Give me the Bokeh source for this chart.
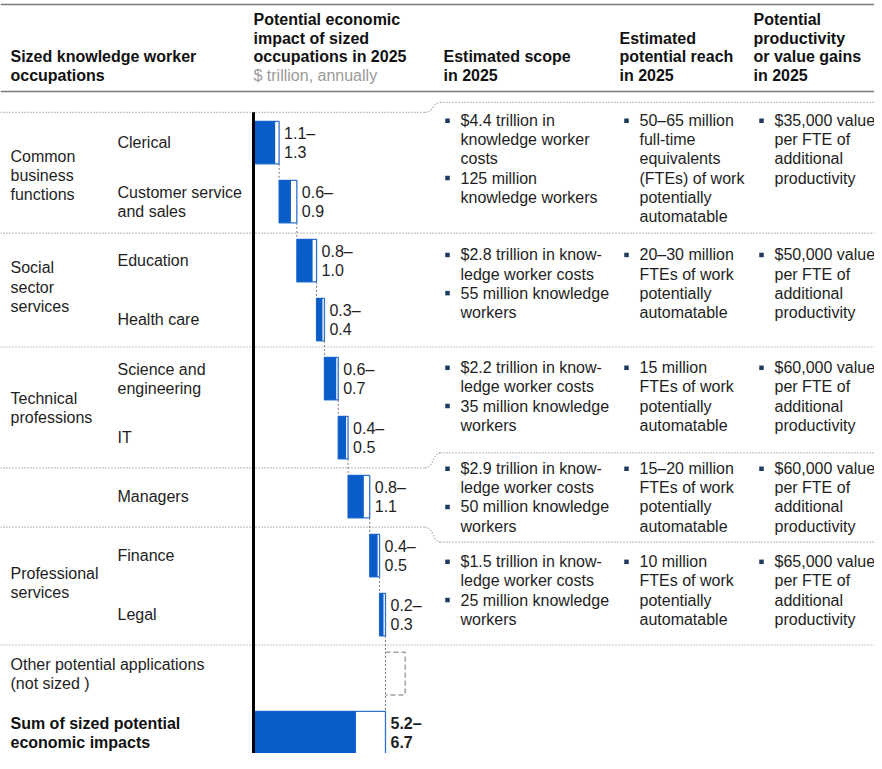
from bokeh.plotting import figure
from bokeh.models import Range1d, ColumnDataSource
from bokeh.core.properties import value
from bokeh.embed import file_html
from bokeh.resources import INLINE

# ------------------------------------------------------------------ data
group_labels = [["Common", "business", "functions"],
                ["Social", "sector", "services"],
                ["Technical", "professions"],
                [],
                ["Professional", "services"]]

occupations = [["Clerical"], ["Customer service", "and sales"], ["Education"],
               ["Health care"], ["Science and", "engineering"], ["IT"],
               ["Managers"], ["Finance"], ["Legal"]]

impact_low = [1.1, 0.6, 0.8, 0.3, 0.6, 0.4, 0.8, 0.4, 0.2]    # $ trillion
impact_high = [1.3, 0.9, 1.0, 0.4, 0.7, 0.5, 1.1, 0.5, 0.3]   # $ trillion

other_label = ["Other potential applications", "(not sized )"]
sum_label = ["Sum of sized potential", "economic impacts"]

scope = [
    [["$4.4 trillion in", "knowledge worker", "costs"], ["125 million", "knowledge workers"]],
    [["$2.8 trillion in know-", "ledge worker costs"], ["55 million knowledge", "workers"]],
    [["$2.2 trillion in know-", "ledge worker costs"], ["35 million knowledge", "workers"]],
    [["$2.9 trillion in know-", "ledge worker costs"], ["50 million knowledge", "workers"]],
    [["$1.5 trillion in know-", "ledge worker costs"], ["25 million knowledge", "workers"]],
]
reach = [
    [["50\u201365 million", "full-time", "equivalents", "(FTEs) of work", "potentially", "automatable"]],
    [["20\u201330 million", "FTEs of work", "potentially", "automatable"]],
    [["15 million", "FTEs of work", "potentially", "automatable"]],
    [["15\u201320 million", "FTEs of work", "potentially", "automatable"]],
    [["10 million", "FTEs of work", "potentially", "automatable"]],
]
gains = [
    [["$35,000 value", "per FTE of", "additional", "productivity"]],
    [["$50,000 value", "per FTE of", "additional", "productivity"]],
    [["$60,000 value", "per FTE of", "additional", "productivity"]],
    [["$60,000 value", "per FTE of", "additional", "productivity"]],
    [["$65,000 value", "per FTE of", "additional", "productivity"]],
]

headers = [
    ["Sized knowledge worker", "occupations"],
    ["Potential economic", "impact of sized", "occupations in 2025"],
    ["Estimated scope", "in 2025"],
    ["Estimated", "potential reach", "in 2025"],
    ["Potential", "productivity", "or value gains", "in 2025"],
]
unit_label = "$ trillion, annually"

OTHER_BOX_WIDTH = 1.0   # illustrative only: "not sized"

# ------------------------------------------------------------------ layout
W, H = 874, 753
VSCALE = 0.99        # slight vertical compression so the bottom row fits
PX_PER_T = 19.7
AXIS_PX = 253
FONT = value("Liberation Sans")
FS = "16px"
TXT = "#1e1e1e"
BLUE = "#0a5cc8"
GRAY = "#8c8c8c"

ROW0, STEP, BAR_H = 143.5, 59.6, 43
LINE = 19.3
row_y = [ROW0 + STEP * i for i in range(11)]

group_center = [177, 289.5, 412, None, 588.5]
header_x = [10, 253, 443, 619, 753]
header_last = 76
col_text_x = [460, 639, 774]
block_top = [121.5, 257, 371, 473, 567]
sep_left = [113, 235, 350, 472, 532, 651]
sep_right = [103, 235, 350, 457, 547, 651]

p = figure(width=W, height=H, output_backend="svg", toolbar_location=None,
           x_range=Range1d((0 - AXIS_PX) / PX_PER_T, (W - AXIS_PX) / PX_PER_T),
           y_range=Range1d(H / VSCALE, 0), min_border=0)
p.extra_x_ranges = {"px": Range1d(0, W)}
p.xaxis.visible = False
p.yaxis.visible = False
p.xgrid.visible = False
p.ygrid.visible = False
p.outline_line_color = None
p.background_fill_color = "white"

reg = dict(x=[], y=[], t=[])
bold = dict(x=[], y=[], t=[])
grey = dict(x=[], y=[], t=[])

def add(store, x, y, t):
    store["x"].append(x); store["y"].append(y); store["t"].append(t)

# headers (bottom aligned)
for i, (hx, lines) in enumerate(zip(header_x, headers)):
    n = len(lines) + (1 if i == 1 else 0)
    for k, ln in enumerate(lines):
        add(bold, hx, header_last - 19 * (n - 1 - k), ln)
add(grey, header_x[1], header_last, unit_label)

# header rules
p.segment(x0=[0, 0], x1=[W, W], y0=[4, 92], y1=[4, 92],
          line_color="#7a7a7a", line_width=1.5, x_range_name="px")

# dotted separators
for yl, yr in zip(sep_left, sep_right):
    if yl == yr:
        p.segment(x0=0, x1=W, y0=yl, y1=yl, line_color=GRAY, line_width=1.2,
                  line_dash="1 2", x_range_name="px")
    else:
        p.segment(x0=0, x1=425, y0=yl, y1=yl, line_color=GRAY, line_width=1.2,
                  line_dash="1 2", x_range_name="px")
        p.segment(x0=440, x1=W, y0=yr, y1=yr, line_color=GRAY, line_width=1.2,
                  line_dash="1 2", x_range_name="px")
        p.bezier(x0=425, y0=yl, x1=440, y1=yr, cx0=433, cy0=yl, cx1=432, cy1=yr,
                 line_color=GRAY, line_width=1.2, line_dash="1 2", x_range_name="px")

# group labels
for lines, c in zip(group_labels, group_center):
    if not lines:
        continue
    n = len(lines)
    for k, ln in enumerate(lines):
        add(reg, 10, c + (k - (n - 1) / 2) * LINE, ln)

# occupation labels
for i, lines in enumerate(occupations):
    n = len(lines)
    for k, ln in enumerate(lines):
        add(reg, 117, row_y[i] + (k - (n - 1) / 2) * LINE, ln)
for k, ln in enumerate(other_label):
    add(reg, 10, row_y[9] + (k - 0.5) * LINE, ln)
for k, ln in enumerate(sum_label):
    add(bold, 10, row_y[10] + (k - 0.5) * LINE, ln)

# right-hand text blocks with bullets
bul = dict(x=[], y=[])
for b in range(5):
    for col, data in enumerate([scope, reach, gains]):
        y = block_top[b]
        for bullet in data[b]:
            bul["x"].append(col_text_x[col] - 13)
            bul["y"].append(y)
            for ln in bullet:
                add(reg, col_text_x[col], y, ln)
                y += LINE
p.scatter(x="x", y="y", source=ColumnDataSource(bul), marker="square", size=4.5,
          fill_color="#1f3a5f", line_color=None, x_range_name="px")

# ------------------------------------------------------------------ waterfall
starts = []
acc = 0.0
for h in impact_high:
    starts.append(acc)
    acc += h
total_high = round(sum(impact_high), 1)
total_low = round(sum(impact_low), 1)

bars = dict(left=starts + [0.0], low=[s + l for s, l in zip(starts, impact_low)] + [total_low],
            high=[s + h for s, h in zip(starts, impact_high)] + [total_high],
            top=[row_y[i] - BAR_H / 2 for i in range(9)] + [row_y[10] - BAR_H / 2],
            bottom=[row_y[i] + BAR_H / 2 for i in range(9)] + [row_y[10] + BAR_H / 2])
src = ColumnDataSource(bars)

# connectors
cx, cy0, cy1 = [], [], []
for i in range(8):
    cx.append(bars["high"][i]); cy0.append(bars["bottom"][i]); cy1.append(bars["top"][i + 1])
cx.append(bars["high"][8]); cy0.append(bars["bottom"][8]); cy1.append(bars["top"][9])
p.segment(x0=cx, x1=cx, y0=cy0, y1=cy1, line_color="#777777", line_width=1, line_dash="2 2")

# other (not sized) dashed box
ot, ob = row_y[9] - BAR_H / 2, row_y[9] + BAR_H / 2
p.line(x=[total_high, total_high + OTHER_BOX_WIDTH, total_high + OTHER_BOX_WIDTH, total_high],
       y=[ot, ot, ob, ob], line_color="#a0a0a0", line_width=1.5, line_dash="5 3")

p.quad(left="left", right="high", top="top", bottom="bottom", source=src,
       fill_color="white", line_color="#2f72d0", line_width=1.3)
p.quad(left="left", right="low", top="top", bottom="bottom", source=src,
       fill_color=BLUE, line_color=None)

# axis line
p.segment(x0=0, x1=0, y0=113, y1=H / VSCALE + 5, line_color="black", line_width=3)

# value labels
vl = dict(x=[], y=[], t=[])
for i in range(9):
    vl["x"] += [bars["high"][i]] * 2
    vl["y"] += [row_y[i] - LINE / 2, row_y[i] + LINE / 2]
    vl["t"] += [f"{impact_low[i]:.1f}\u2013", f"{impact_high[i]:.1f}"]
p.text(x="x", y="y", text="t", source=ColumnDataSource(vl), x_offset=5,
       text_font=FONT, text_font_size=FS, text_color=TXT, text_baseline="middle")
p.text(x=[total_high] * 2, y=[row_y[10] - LINE / 2, row_y[10] + LINE / 2],
       text=[f"{total_low:.1f}\u2013", f"{total_high:.1f}"], x_offset=5,
       text_font=FONT, text_font_size=FS, text_font_style="bold", text_color=TXT,
       text_baseline="middle")

# table text
for store, style, color in [(reg, "normal", TXT), (bold, "bold", "#111111"), (grey, "normal", "#9a9a9a")]:
    p.text(x="x", y="y", text="t", source=ColumnDataSource(store), x_range_name="px",
           text_font=FONT, text_font_size=FS, text_font_style=style, text_color=color,
           text_baseline="middle")

open("out.html", "w").write(file_html(p, INLINE))
